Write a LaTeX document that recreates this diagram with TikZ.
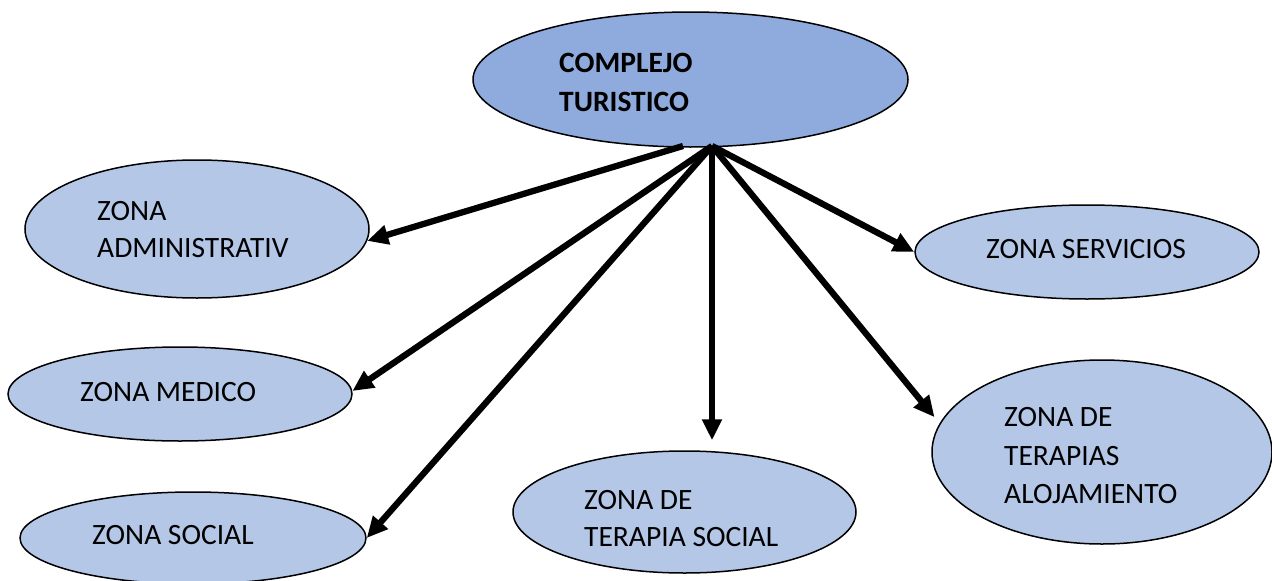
\documentclass[tikz,border=0pt]{standalone}
\usepackage{fontspec}
\setmainfont{Carlito}
\usetikzlibrary{shapes.geometric,arrows.meta}
\definecolor{topfill}{HTML}{8FAADC}
\definecolor{zonefill}{HTML}{B4C7E7}
\begin{document}
\begin{tikzpicture}[x=1pt,y=-1pt,
  zone/.style={ellipse,draw=black,line width=1.5pt,fill=zonefill,inner sep=0pt},
  topzone/.style={zone,fill=topfill},
  lbl/.style={anchor=west,inner sep=0pt,align=left,font=\fontsize{29.5}{37.5}\selectfont},
  conn/.style={line width=6.3pt,-{Triangle[length=21pt,width=19pt]}}]
\useasboundingbox (0,0) rectangle (1272,581);
% ellipses
\node[topzone,minimum width=435pt,minimum height=135pt] (top) at (690.5,79.5) {};
\node[zone,minimum width=344pt,minimum height=138pt] (adm) at (197,229) {};
\node[zone,minimum width=344pt,minimum height=94pt] (srv) at (1087,252) {};
\node[zone,minimum width=344pt,minimum height=94pt] (med) at (180,394) {};
\node[zone,minimum width=340pt,minimum height=184pt] (alo) at (1102,452) {};
\node[zone,minimum width=343pt,minimum height=122pt] (ter) at (684.5,512) {};
\node[zone,minimum width=346pt,minimum height=92pt] (soc) at (193,538) {};
% labels
\node[lbl,font=\fontsize{29.5}{38.5}\selectfont\bfseries] (ttop) at (559,82.25) {COMPLEJO\\TURISTICO};
\node[lbl,font=\fontsize{29.5}{36.5}\selectfont] (tadm) at (97,229.75) {ZONA\\ADMINISTRATIV};
\node[lbl] (tsrv) at (986,249) {ZONA SERVICIOS};
\node[lbl] (tmed) at (80,392) {ZONA MEDICO};
\node[lbl,font=\fontsize{29.5}{38.75}\selectfont] (talo) at (1004,455.75) {ZONA DE\\TERAPIAS\\ALOJAMIENTO};
\node[lbl,font=\fontsize{29.5}{37}\selectfont] (tter) at (584,518.5) {ZONA DE\\TERAPIA SOCIAL};
\node[lbl] (tsoc) at (92,535) {ZONA SOCIAL};
% connectors
\coordinate (s1) at (683,146);
\coordinate (s2) at (712,146);
\draw[conn] (s1) -- (adm.-4);
\draw[conn] (s2) -- (med.1);
\draw[conn] (s2) -- (soc.east);
\draw[conn,shorten >=10pt] (s2) -- (s2 |- ter.north);
\draw[conn,shorten >=8pt] (s2) -- (alo.170);
\draw[conn] (s2) -- (srv.west);
\end{tikzpicture}
\end{document}
